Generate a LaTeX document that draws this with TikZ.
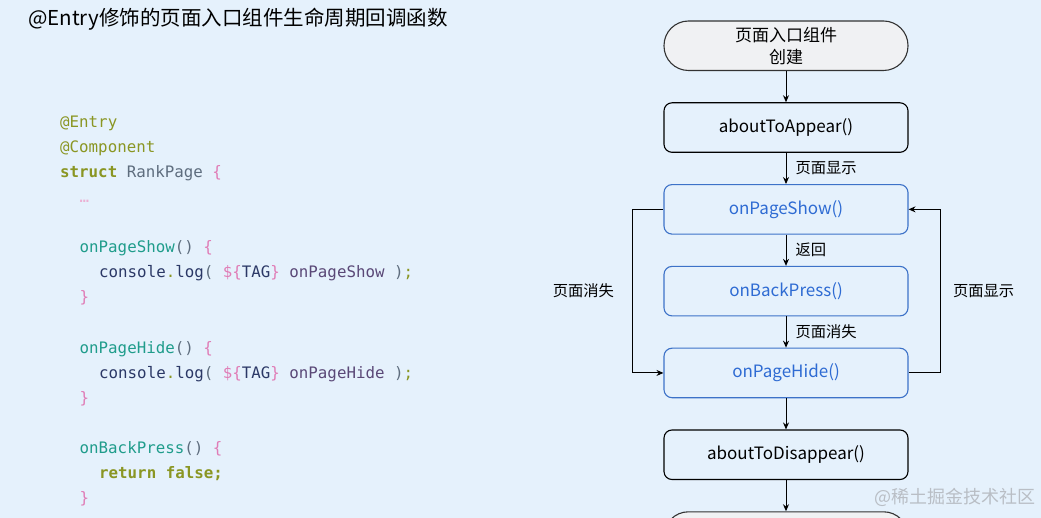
\documentclass[tikz,border=0pt]{standalone}
\usepackage{fontspec}
\setmainfont{Noto Sans CJK SC}
\setmonofont{DejaVu Sans Mono}
\usetikzlibrary{arrows.meta, calc, positioning}

\definecolor{bgblue}{HTML}{E5F1FC}
\definecolor{codeolive}{HTML}{8A9623}
\definecolor{codegray}{HTML}{5E6D7E}
\definecolor{codepink}{HTML}{E07CB6}
\definecolor{codeteal}{HTML}{1F9C8B}
\definecolor{codenavy}{HTML}{2B3866}
\definecolor{codeplum}{HTML}{5A4877}
\definecolor{boxblue}{HTML}{3D72C8}
\definecolor{textblue}{HTML}{2E6BD3}
\definecolor{stadiumgray}{HTML}{F0F1F3}
\definecolor{watermark}{HTML}{B9BEC5}

\newcommand{\tok}[2]{\textcolor{#1}{#2}}

\begin{document}
\begin{tikzpicture}[x=1pt, y=-1pt, >={Stealth[length=7pt, width=6pt]}, node distance=31.2pt]
    \tikzstyle{code}=[anchor=base west, inner sep=0pt, font=\fontsize{15.8}{20}\ttfamily]
    \tikzstyle{stepbox}=[draw, black, line width=1.1pt, rectangle, rounded corners=8pt, minimum width=244pt, minimum height=49.5pt, inner sep=3pt, font=\fontsize{17}{22}\selectfont, text=black]
    \tikzstyle{bluebox}=[stepbox, draw=boxblue, text=textblue]
    \tikzstyle{stadium}=[stepbox, draw=black!80, fill=stadiumgray, rounded corners=24.5pt, align=center]
    \tikzstyle{lbl}=[font=\fontsize{15.3}{18}\selectfont, inner sep=3pt]
    \tikzstyle{flow}=[->, line width=1pt, black]

    % Background of the slide
    \clip (0,0) rectangle (1041,518);
    \fill[bgblue] (0,0) rectangle (1041,518);

    % Title
    \node[anchor=base west, inner sep=0pt, font=\fontsize{20.5}{24}\selectfont] (title) at (28,26) {@Entry修饰的页面入口组件生命周期回调函数};

    % Draw the code lines
    \foreach \n/\ind/\txt in {
        0/0/{\tok{codeolive}{@Entry}},
        1/0/{\tok{codeolive}{@Component}},
        2/0/{\tok{codeolive}{\bfseries struct} \tok{codegray}{RankPage} \tok{codepink}{\{}},
        3/1/{\tok{codepink!60}{…}},
        5/1/{\tok{codeteal}{onPageShow}\tok{codegray}{()} \tok{codepink}{\{}},
        6/2/{\tok{codenavy}{console}\tok{codeolive}{.}\tok{codenavy}{log}\tok{codegray}{(} \tok{codepink}{\$\{}\tok{codenavy}{TAG}\tok{codepink}{\}} \tok{codeplum}{onPageShow} \tok{codegray}{)}\tok{codeolive}{;}},
        7/1/{\tok{codepink}{\}}},
        9/1/{\tok{codeteal}{onPageHide}\tok{codegray}{()} \tok{codepink}{\{}},
        10/2/{\tok{codenavy}{console}\tok{codeolive}{.}\tok{codenavy}{log}\tok{codegray}{(} \tok{codepink}{\$\{}\tok{codenavy}{TAG}\tok{codepink}{\}} \tok{codeplum}{onPageHide} \tok{codegray}{)}\tok{codeolive}{;}},
        11/1/{\tok{codepink}{\}}},
        13/1/{\tok{codeteal}{onBackPress}\tok{codegray}{()} \tok{codepink}{\{}},
        14/2/{\tok{codeolive}{\bfseries return false;}},
        15/1/{\tok{codepink}{\}}}}
    \node[code] (L-\n) at (60+19.5*\ind, 128+25*\n) {\txt};

    % Draw the lifecycle boxes
    \node[stadium] (create) at (786,45.75) {页面入口组件\\创建};
    \node[stepbox, below=of create] (appear) {aboutToAppear()};
    \node[bluebox, below=of appear] (show) {onPageShow()};
    \node[bluebox, below=of show] (back) {onBackPress()};
    \node[bluebox, below=of back] (hide) {onPageHide()};
    \node[stepbox, below=of hide] (disappear) {aboutToDisappear()};
    \node[stadium, below=of disappear] (destroy) {};

    % Connect the boxes top to bottom
    \draw[flow] (create) -- (appear);
    \draw[flow] (appear) -- node[lbl, right=6pt] {页面显示} (show);
    \draw[flow] (show) -- node[lbl, right=6pt] {返回} (back);
    \draw[flow] (back) -- node[lbl, right=6pt] {页面消失} (hide);
    \draw[flow] (hide) -- (disappear);
    \draw[flow] (disappear) -- (destroy);

    % Loops between show and hide
    \draw[flow] (show.west) -- ++(-31,0) |- node[lbl, left=15pt, pos=0.25] {页面消失} (hide.west);
    \draw[flow] (hide.east) -- ++(32,0) |- node[lbl, right=9pt, pos=0.25] {页面显示} (show.east);

    % Watermark
    \node[anchor=east, inner sep=0pt, font=\fontsize{18}{20}\selectfont, text=watermark] (mark) at (1036,497) {@稀土掘金技术社区};
\end{tikzpicture}
\end{document}
